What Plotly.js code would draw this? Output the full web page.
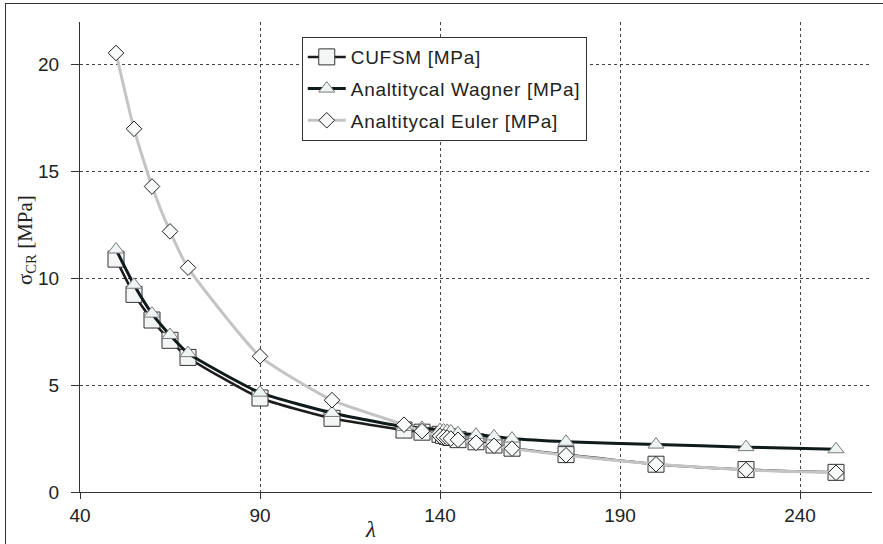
<!DOCTYPE html>
<html>
<head>
<meta charset="utf-8">
<script src="https://cdn.plot.ly/plotly-3.0.1.min.js"></script>
<style>
  html, body { margin: 0; padding: 0; background: #ffffff; }
  #wrap { position: relative; width: 883px; height: 544px; overflow: hidden; }
  #chart { position: absolute; left: 0; top: 0; width: 883px; height: 544px; }
  #frame { position: absolute; left: 5px; top: 3px; width: 890px; height: 560px;
           border: 1px solid #333; pointer-events: none; }
  .legendtext { letter-spacing: 0.7px; }
</style>
</head>
<body>
<div id="wrap">
  <div id="chart"></div>
  <div id="frame"></div>
</div>
<script>
// slenderness values
const lambda = [50, 55, 60, 65, 70, 90, 110, 130, 135, 140, 141, 142, 143, 145, 150, 155, 160, 175, 200, 225, 250];

// critical stress [MPa]
const cufsm  = [10.9, 9.25, 8.05, 7.1, 6.3, 4.4, 3.45, 2.9, 2.8, 2.7, 2.65, 2.6, 2.55, 2.45, 2.35, 2.2, 2.05, 1.75, 1.3, 1.05, 0.92];
const wagner = [11.35, 9.7, 8.35, 7.35, 6.5, 4.65, 3.7, 3.05, 3.0, 2.9, 2.88, 2.86, 2.84, 2.75, 2.68, 2.6, 2.5, 2.35, 2.22, 2.1, 2.0];
const euler  = [20.55, 17.0, 14.3, 12.2, 10.5, 6.35, 4.3, 3.15, 2.85, 2.62, 2.58, 2.54, 2.5, 2.44, 2.3, 2.16, 2.03, 1.72, 1.3, 1.03, 0.9];

const names = ['CUFSM [MPa]', 'Analtitycal Wagner [MPa]', 'Analtitycal Euler [MPa]'];
const xTicks = [40, 90, 140, 190, 240];
const yTicks = [0, 5, 10, 15, 20];

const traces = [
  {
    x: lambda, y: cufsm, name: names[0], type: 'scatter', mode: 'lines+markers',
    line: { color: '#1c1c1c', width: 2.5, shape: 'spline', smoothing: 0.5 },
    marker: { symbol: 'square', size: 16, color: '#f4f6f6', line: { color: '#333333', width: 1 } },
    legendgroup: 'a'
  },
  {
    x: lambda, y: wagner, name: names[1], type: 'scatter', mode: 'lines+markers',
    line: { color: '#0f1a1a', width: 3, shape: 'spline', smoothing: 0.5 },
    marker: { symbol: 'triangle-up', size: 14, color: '#eef3f3', line: { color: '#7a7a7a', width: 1 } },
    legendgroup: 'b'
  },
  {
    x: lambda, y: euler, name: names[2], type: 'scatter', mode: 'lines+markers',
    line: { color: '#c4c4c4', width: 3, shape: 'spline', smoothing: 0.5 },
    marker: { symbol: 'diamond', size: 12, color: '#f8f9f9', line: { color: '#222222', width: 1 } },
    legendgroup: 'c'
  }
];

const tickFont = { family: 'Liberation Sans, Arial, sans-serif', size: 19, color: '#222' };

const layout = {
  width: 883, height: 544,
  margin: { l: 80, r: 11, t: 22, b: 52 },
  paper_bgcolor: '#ffffff', plot_bgcolor: '#ffffff',
  showlegend: true,
  legend: {
    x: 0.280, y: 0.968, xanchor: 'left', yanchor: 'top',
    bgcolor: '#ffffff', bordercolor: '#333333', borderwidth: 1,
    font: { family: 'Liberation Sans, Arial, sans-serif', size: 19, color: '#222' },
    itemwidth: 38, tracegroupgap: 4, traceorder: 'grouped'
  },
  xaxis: {
    range: [40, 260], tickvals: xTicks, ticktext: xTicks.map(String),
    showgrid: true, gridcolor: '#444', griddash: '3px,3px', gridwidth: 1,
    showline: true, linecolor: '#333', linewidth: 1, zeroline: false,
    ticks: 'outside', ticklen: 6, tickcolor: '#333', tickfont: tickFont,
    fixedrange: true
  },
  yaxis: {
    range: [0, 22], tickvals: yTicks, ticktext: yTicks.map(String),
    showgrid: true, gridcolor: '#444', griddash: '3px,3px', gridwidth: 1,
    showline: true, linecolor: '#333', linewidth: 1, zeroline: false,
    ticks: 'outside', ticklen: 8, tickcolor: '#333', tickfont: tickFont,
    ticklabelstandoff: 8,
    fixedrange: true
  },
  annotations: [
    {
      text: 'λ', xref: 'paper', yref: 'paper', x: (370 - 80) / 792, y: -0.08,
      xanchor: 'center', yanchor: 'middle', showarrow: false,
      font: { family: 'Liberation Serif, serif', size: 23, color: '#222', style: 'italic' }
    },
    {
      text: 'σ<sub>CR</sub> [MPa]', xref: 'paper', yref: 'paper', x: (26 - 80) / 792, y: (492 - 240) / 470,
      xanchor: 'center', yanchor: 'middle', showarrow: false, textangle: -90,
      font: { family: 'Liberation Serif, serif', size: 21, color: '#222' }
    }
  ]
};

Plotly.newPlot('chart', traces, layout, { displayModeBar: false, staticPlot: true });
</script>
</body>
</html>
